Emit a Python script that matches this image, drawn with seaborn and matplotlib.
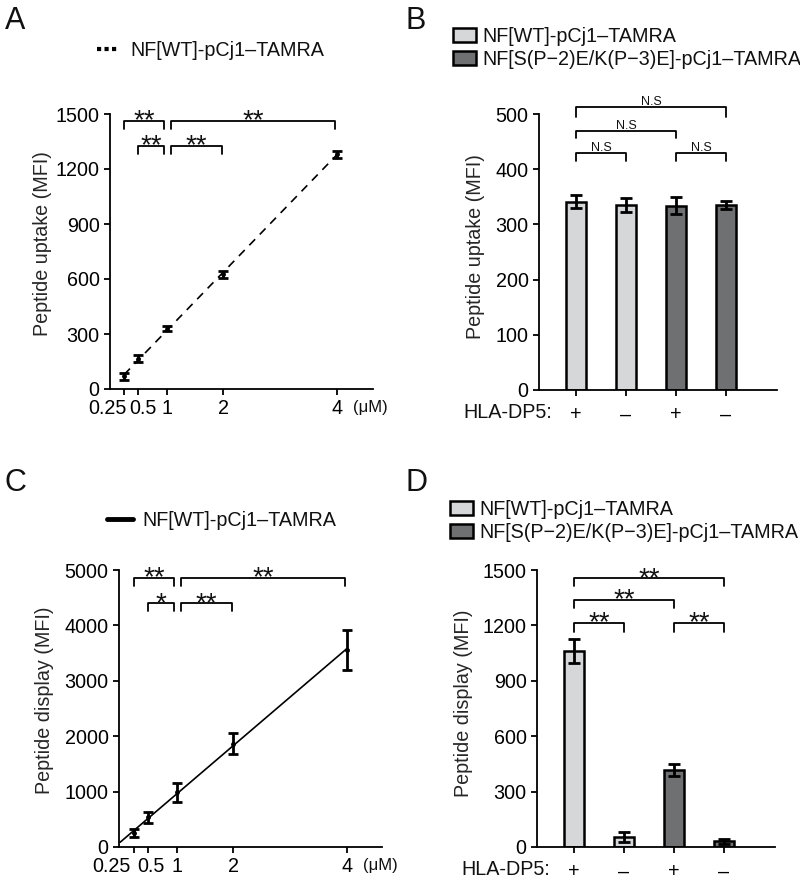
import numpy as np
import pandas as pd
import seaborn as sns
import matplotlib.pyplot as plt
import matplotlib.transforms as mtrans
from matplotlib.lines import Line2D

# dose-response data (A, C)
conc = [0.25, 0.5, 1, 2, 4]
conc_labels = ["0.25", "0.5", "1", "2", "4"]
uptake_mean = [70, 165, 330, 625, 1280]
uptake_err = [20, 20, 15, 20, 20]
display_mean = [254, 537, 984, 1866, 3560]
display_err = [67, 97, 163, 187, 360]

# bar data (B, D)
peptides = ["NF[WT]-pCj1\u2013TAMRA", "NF[S(P\u22122)E/K(P\u22123)E]-pCj1\u2013TAMRA"]
bar_group = [peptides[0], peptides[0], peptides[1], peptides[1]]
hla = ["+", "\u2013", "+", "\u2013"]
uptake_bar = [341, 335, 334, 335]
uptake_bar_err = [12, 13, 15, 8]
display_bar = [1062, 52, 418, 31]
display_bar_err = [63, 27, 32, 15]
bar_colors = ["#d6d7d8", "#6f7072"]

FS = 14.2

sns.set_style("ticks")
plt.rcParams['font.family'] = ['Liberation Sans', 'DejaVu Sans']
plt.rcParams['axes.linewidth'] = 1.3
plt.rcParams['xtick.major.width'] = 1.3
plt.rcParams['ytick.major.width'] = 1.3
plt.rcParams['xtick.major.size'] = 4
plt.rcParams['ytick.major.size'] = 4
plt.rcParams['xtick.labelsize'] = FS
plt.rcParams['ytick.labelsize'] = FS
plt.rcParams['axes.labelsize'] = FS
plt.rcParams['axes.edgecolor'] = 'black'
plt.rcParams['xtick.color'] = 'black'
plt.rcParams['ytick.color'] = 'black'
plt.rcParams['text.color'] = '#111111'

W, H = 800, 885
fig = plt.figure(figsize=(W / 100, H / 100), dpi=100)


def add_ax(l, r, t, b):
    return fig.add_axes([l / W, 1 - b / H, (r - l) / W, (b - t) / H])


def bracket(ax, x1, x2, y, h, text, fs=20, dy=-5.5):
    ax.plot([x1, x1, x2, x2], [y - h, y, y, y - h], color='black', lw=1.3, clip_on=False)
    ax.annotate(text, xy=((x1 + x2) / 2, y), xytext=(0, dy), textcoords='offset points',
                ha='center', va='baseline', fontsize=fs, annotation_clip=False)


def dose_panel(ax, mean, err, ls, ylim, yticks, ylabel, xlim, shifts):
    x = np.array(conc)
    k, c = np.polyfit(x, mean, 1)
    xs = np.array([x[0] if ls != '-' else 0.0, x[-1]])
    fit = pd.DataFrame({"x": xs, "y": k * xs + c})
    sns.lineplot(data=fit, x="x", y="y", ax=ax, color='black', lw=1.2, linestyle=ls)
    if ls != '-':
        ax.lines[-1].set_dashes((5, 4))
    ax.errorbar(conc, mean, yerr=err, fmt='o', ms=2.5, color='black',
                elinewidth=2, capsize=3.5, capthick=2, zorder=5)
    ax.set_xlim(*xlim)
    ax.set_ylim(*ylim)
    ax.set_yticks(yticks)
    ax.set_xticks(conc)
    ax.set_xticklabels(conc_labels)
    labs = ax.get_xticklabels()
    labs[0].set_horizontalalignment('right')
    for lab, dx in zip(labs[:2], shifts):
        lab.set_transform(lab.get_transform() +
                          mtrans.ScaledTranslation(dx / 100, 0, fig.dpi_scale_trans))
    ax.set_xlabel("")
    ax.set_ylabel(ylabel)
    sns.despine(ax=ax)
    ax.annotate("(\u03bcM)", xy=(4.6, 0), xycoords=ax.get_xaxis_transform(),
                xytext=(0, -13.5), textcoords='offset points', ha='center', va='center',
                fontsize=12, annotation_clip=False)


def bar_panel(ax, vals, errs, ylim, yticks, ylabel):
    df = pd.DataFrame({"pos": [0, 1, 2, 3], "val": vals, "group": bar_group})
    sns.barplot(data=df, x="pos", y="val", hue="group", hue_order=peptides,
                palette=bar_colors, dodge=False, width=0.4, edgecolor='black',
                linewidth=1.8, errorbar=None, ax=ax)
    ax.errorbar([0, 1, 2, 3], vals, yerr=errs, fmt='none', ecolor='black',
                elinewidth=2, capsize=4, capthick=2, zorder=5)
    handles, labels = ax.get_legend_handles_labels()
    if ax.get_legend() is not None:
        ax.get_legend().remove()
    ax.set_xlim(-0.74, 4.02)
    ax.set_ylim(*ylim)
    ax.set_yticks(yticks)
    ax.set_xticks([0, 1, 2, 3])
    ax.set_xticklabels(hla)
    ax.tick_params(axis='x', pad=7)
    ax.set_xlabel("")
    ax.set_ylabel(ylabel)
    sns.despine(ax=ax)
    ax.annotate("HLA-DP5:", xy=(-0.47, 0), xycoords=ax.get_xaxis_transform(),
                xytext=(0, -16.5), textcoords='offset points', ha='right', va='center',
                fontsize=FS, annotation_clip=False)
    return handles, labels


def bar_legend(h, l, x, y):
    fig.legend(h, l, loc='upper left', bbox_to_anchor=(x / W, 1 - y / H), frameon=False,
               fontsize=FS, handlelength=1.15, handleheight=0.7, handletextpad=0.35,
               labelspacing=0.2, borderpad=0, borderaxespad=0)


# ---- A ----
axA = add_ax(110, 373, 114, 389)
dose_panel(axA, uptake_mean, uptake_err, '--', (0, 1500), range(0, 1501, 300),
           "Peptide uptake (MFI)", (0, 4.64), (2, 5))
bracket(axA, 0.25, 0.95, 1463, 45, "**")
bracket(axA, 0.5, 0.95, 1326, 45, "**")
bracket(axA, 1.07, 3.97, 1463, 45, "**")
bracket(axA, 1.07, 1.97, 1326, 45, "**")
axA.yaxis.set_label_coords(-0.22, 0.53)
fig.legend(handles=[Line2D([], [], color='black', lw=3, linestyle=(0, (1, 0.8)))],
           labels=[peptides[0]], loc='center left', bbox_to_anchor=(97 / W, 1 - 50 / H),
           frameon=False, fontsize=FS, handlelength=1.1, handletextpad=0.6, borderpad=0,
           borderaxespad=0)

# ---- B ----
axB = add_ax(539, 777, 114, 390)
hB, lB = bar_panel(axB, uptake_bar, uptake_bar_err, (0, 500), range(0, 501, 100),
                   "Peptide uptake (MFI)")
for x1, x2, y, h in [(0, 1, 429, 14), (2, 3, 429, 14), (0, 2, 469, 13), (0, 3, 513, 18)]:
    bracket(axB, x1, x2, y, h, "N.S", fs=9, dy=1.5)
axB.yaxis.set_label_coords(-0.227, 0.52)
bar_legend(hB, lB, 453, 27)

# ---- C ----
axC = add_ax(119, 382, 570, 847)
dose_panel(axC, display_mean, display_err, '-', (0, 5000), range(0, 5001, 1000),
           "Peptide display (MFI)", (-0.02, 4.62), (-4, 2))
bracket(axC, 0.25, 0.95, 4861, 145, "**")
bracket(axC, 0.5, 0.95, 4396, 130, "*")
bracket(axC, 1.07, 3.97, 4861, 145, "**")
bracket(axC, 1.07, 1.97, 4396, 130, "**")
axC.yaxis.set_label_coords(-0.246, 0.53)
fig.legend(handles=[Line2D([], [], color='black', lw=3.5)], labels=[peptides[0]],
           loc='center left', bbox_to_anchor=(107 / W, 1 - 520 / H), frameon=False,
           fontsize=FS, handlelength=1.3, handletextpad=0.5, borderpad=0, borderaxespad=0)

# ---- D ----
axD = add_ax(537, 775, 570, 847)
hD, lD = bar_panel(axD, display_bar, display_bar_err, (0, 1500), range(0, 1501, 300),
                   "Peptide display (MFI)")
for x1, x2, y, h in [(0, 1, 1215, 50), (2, 3, 1215, 50), (0, 2, 1338, 45), (0, 3, 1455, 40)]:
    bracket(axD, x1, x2, y, h, "**")
axD.yaxis.set_label_coords(-0.269, 0.52)
bar_legend(hD, lD, 450, 500)

# panel letters
for lab, x, y in [("A", 5, 6), ("B", 406, 6), ("C", 5, 468), ("D", 406, 468)]:
    fig.text(x / W, 1 - y / H, lab, fontsize=22, ha='left', va='top')

fig.savefig("out.png", dpi=100)
